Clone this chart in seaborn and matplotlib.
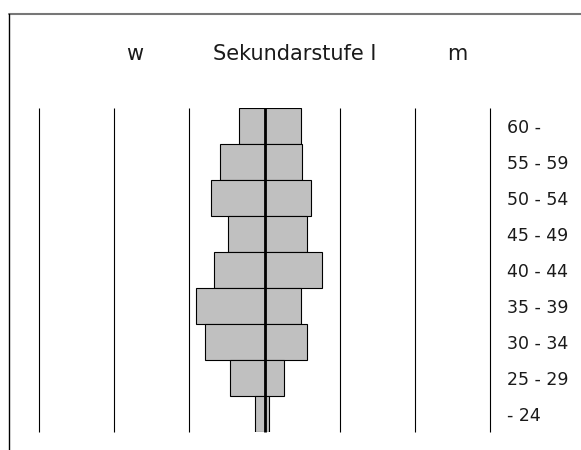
import numpy as np
import pandas as pd
import seaborn as sns
import matplotlib
matplotlib.use('Agg')
from matplotlib import pyplot as plt
from matplotlib.lines import Line2D

sns.set_style('white')
plt.rcParams['font.family'] = ['DejaVu Sans']

# age groups, top to bottom
ages = ['60 -', '55 - 59', '50 - 54', '45 - 49', '40 - 44',
        '35 - 39', '30 - 34', '25 - 29', '- 24']
# share in percent (one grid step = 10)
women = [3.4, 5.9, 7.1, 4.8, 6.7, 9.1, 7.9, 4.6, 1.3]
men = [4.8, 5.0, 6.2, 5.7, 7.6, 4.8, 5.6, 2.6, 0.6]
grid_steps = [-30, -20, -10, 10, 20, 30]

df = pd.DataFrame({'age': ages, 'w': [-v for v in women], 'm': men})

W, H = 581, 450
fig = plt.figure(figsize=(W / 100, H / 100), dpi=100)
ax = fig.add_axes([39 / W, (H - 432) / H, (490 - 39) / W, 324 / H])

sns.barplot(data=df, x='w', y='age', orient='h', color='#c0c0c0', saturation=1,
            edgecolor='black', linewidth=0.8, width=1, errorbar=None, ax=ax)
sns.barplot(data=df, x='m', y='age', orient='h', color='#c0c0c0', saturation=1,
            edgecolor='black', linewidth=0.8, width=1, errorbar=None, ax=ax)

ax.set_xlim(-30, 30)
ax.set_ylim(len(ages) - 0.5, -0.5)
ax.vlines(grid_steps, len(ages) - 0.5, -0.5, colors='black', linewidth=0.8,
          clip_on=False, zorder=3)
ax.vlines([0], len(ages) - 0.5, -0.5, colors='black', linewidth=2.0,
          clip_on=False, zorder=4)

for s in ax.spines.values():
    s.set_visible(False)
ax.set_xlabel('')
ax.set_ylabel('')
ax.set_xticks([])
ax.yaxis.tick_right()
ax.tick_params(axis='y', length=0, pad=12.5, labelsize=12.5, labelcolor='#1a1a1a')

# header
ty = 1 - 60 / H
fig.text(135 / W, ty, 'w', ha='center', va='baseline', fontsize=15, color='#1a1a1a')
fig.text(295 / W, ty, 'Sekundarstufe I', ha='center', va='baseline', fontsize=15, color='#1a1a1a')
fig.text(457 / W, ty, 'm', ha='center', va='baseline', fontsize=15, color='#1a1a1a')

# frame: top and left edge
fig.add_artist(Line2D([9 / W, 1], [1 - 14 / H, 1 - 14 / H], color='#777777', linewidth=1.5))
fig.add_artist(Line2D([9 / W, 9 / W], [0, 1 - 14 / H], color='black', linewidth=1.0))

fig.savefig('out.png', dpi=100)
